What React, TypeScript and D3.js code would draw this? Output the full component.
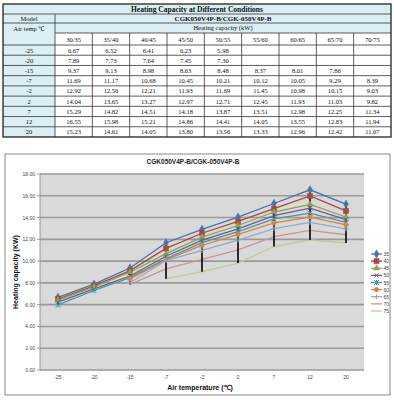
import * as d3 from 'd3';

// air temperature categories (rows of the table, x axis of the chart)
const airTemps = ['-25', '-20', '-15', '-7', '-2', '2', '7', '12', '20'];
// water in/out conditions (columns of the table)
const conditions = ['30/35', '35/40', '40/45', '45/50', '50/55', '55/60', '60/65', '65/70', '70/75'];
const legendNames = ['35', '40', '45', '50', '55', '60', '65', '70', '75'];

// capacity by condition, one value per air temp (null = not available)
const cap3035 = [6.67, 7.89, 9.37, 11.69, 12.92, 14.04, 15.29, 16.55, 15.23];
const cap3540 = [6.52, 7.73, 9.13, 11.17, 12.56, 13.65, 14.82, 15.98, 14.61];
const cap4045 = [6.41, 7.64, 8.98, 10.68, 12.21, 13.27, 14.51, 15.21, 14.05];
const cap4550 = [6.23, 7.45, 8.63, 10.45, 11.93, 12.97, 14.18, 14.86, 13.8];
const cap5055 = [5.98, 7.3, 8.48, 10.21, 11.69, 12.71, 13.87, 14.41, 13.56];
const cap5560 = [null, null, 8.37, 10.12, 11.45, 12.45, 13.51, 14.05, 13.33];
const cap6065 = [null, null, 8.01, 10.05, 10.98, 11.93, 12.98, 13.55, 12.96];
const cap6570 = [null, null, 7.86, 9.29, 10.15, 11.03, 12.25, 12.83, 12.42];
const cap7075 = [null, null, null, 8.39, 9.03, 9.82, 11.34, 11.94, 11.67];

const series = [cap3035, cap3540, cap4045, cap4550, cap5055, cap5560, cap6065, cap6570, cap7075];
const colors = ['#4572A7', '#AA4643', '#89A54E', '#71588F', '#4198AF', '#DB843D', '#93A9CF', '#D19392', '#B9CD96'];
const markers = ['diamond', 'square', 'triangle', 'x', 'star', 'circle', 'plus', 'none', 'none'];
const yTicks = [0, 2, 4, 6, 8, 10, 12, 14, 16, 18];

const lightBlue = '#DBEEF3';

function Marker({ type, x, y, color }: { type: string; x: number; y: number; color: string }) {
  if (type === 'none') return null;
  if (type === 'x') {
    return <path d={`M${x - 2},${y - 2}L${x + 2},${y + 2}M${x - 2},${y + 2}L${x + 2},${y - 2}`} stroke={color} strokeWidth={1} />;
  }
  if (type === 'plus') {
    return <path d={`M${x - 2.5},${y}L${x + 2.5},${y}M${x},${y - 2.5}L${x},${y + 2.5}`} stroke={color} strokeWidth={1} />;
  }
  if (type === 'star') {
    return (
      <g stroke={color} strokeWidth={1}>
        <path d={`M${x - 2.5},${y - 2.5}L${x + 2.5},${y + 2.5}M${x - 2.5},${y + 2.5}L${x + 2.5},${y - 2.5}M${x},${y - 2.5}L${x},${y + 2.5}`} />
      </g>
    );
  }
  const sym = type === 'diamond' ? d3.symbolDiamond : type === 'square' ? d3.symbolSquare : type === 'triangle' ? d3.symbolTriangle : d3.symbolCircle;
  const size = type === 'square' ? 26 : type === 'diamond' ? 20 : 16;
  return <path d={d3.symbol(sym, size)() || ''} transform={`translate(${x},${y})`} fill={color} stroke={color} strokeWidth={0.5} />;
}

function Table() {
  const left = 3, right = 391, firstW = 52;
  const colW = (right - left - firstW) / conditions.length;
  const top = 4;
  const rowH = [10, 9, 10, 12];
  const headY = rowH.reduce<number[]>((acc, h) => [...acc, acc[acc.length - 1] + h], [top]);
  const dataTop = headY[4];
  const dataRow = d3.scaleBand<string>().domain(airTemps).range([dataTop, 137]);
  const colX = (i: number) => left + firstW + i * colW;
  const font = 'Liberation Serif, Times New Roman, serif';
  const bottom = 137;
  return (
    <g fontFamily={font} fill="#111">
      <rect x={left} y={headY[0]} width={right - left} height={rowH[0]} fill={lightBlue} />
      <rect x={left} y={headY[1]} width={right - left} height={rowH[1] + rowH[2]} fill={lightBlue} />
      <rect x={left} y={headY[3]} width={firstW} height={bottom - headY[3]} fill={lightBlue} />
      <rect x={left + firstW} y={headY[3]} width={right - left - firstW} height={bottom - headY[3]} fill="#fff" />
      <text x={(left + right) / 2} y={headY[0] + 7.5} textAnchor="middle" fontSize={7.5} fontWeight="bold">Heating Capacity at Different Conditions</text>
      <text x={left + firstW / 2} y={headY[1] + 6.8} textAnchor="middle" fontSize={6.5}>Model</text>
      <text x={(left + firstW + right) / 2} y={headY[1] + 6.8} textAnchor="middle" fontSize={7} fontWeight="bold">CGK050V4P-B/CGK-050V4P-B</text>
      <text x={left + firstW / 2} y={headY[2] + 8} textAnchor="middle" fontSize={6.5}>Air temp ℃</text>
      <text x={(left + firstW + right) / 2} y={headY[2] + 7.3} textAnchor="middle" fontSize={6.5}>Heating capacity (kW)</text>
      {conditions.map((c, i) => (
        <text key={c} x={colX(i) + colW / 2} y={headY[3] + 8.5} textAnchor="middle" fontSize={6.5}>{c}</text>
      ))}
      {airTemps.map((t, r) => (
        <g key={t}>
          <text x={left + firstW / 2} y={(dataRow(t) as number) + 7.5} textAnchor="middle" fontSize={6.5}>{t}</text>
          {series.map((s, i) =>
            s[r] == null ? null : (
              <text key={i} x={colX(i) + colW / 2} y={(dataRow(t) as number) + 7.5} textAnchor="middle" fontSize={6.5}>
                {(s[r] as number).toFixed(2)}
              </text>
            )
          )}
        </g>
      ))}
      <g stroke="#333" strokeWidth={0.8} fill="none">
        {headY.slice(1, 3).map((y) => <line key={y} x1={left} x2={right} y1={y} y2={y} />)}
        <line x1={left + firstW} x2={right} y1={headY[3]} y2={headY[3]} />
        {airTemps.map((t) => <line key={t} x1={left} x2={right} y1={dataRow(t)} y2={dataRow(t)} />)}
        <line x1={left + firstW} x2={left + firstW} y1={headY[1]} y2={bottom} />
        {conditions.slice(1).map((c, i) => <line key={c} x1={colX(i + 1)} x2={colX(i + 1)} y1={headY[3]} y2={bottom} />)}
        <rect x={left} y={top} width={right - left} height={bottom - top} stroke="#222" strokeWidth={1.3} />
      </g>
    </g>
  );
}

function Chart() {
  const plot = { left: 40, right: 364, top: 174, bottom: 370 };
  const x = d3.scaleBand<string>().domain(airTemps).range([plot.left, plot.right]);
  const cx = (t: string) => (x(t) as number) + x.bandwidth() / 2;
  const y = d3.scaleLinear().domain([0, 18]).range([plot.bottom, plot.top]);
  const line = d3
    .line<number | null>()
    .defined((d) => d != null)
    .x((_, i) => cx(airTemps[i]))
    .y((d) => y(d as number));
  const sans = 'Liberation Sans, Arial, sans-serif';
  const hiLo = airTemps.map((t, i) => {
    const vals = series.map((s) => s[i]).filter((v): v is number => v != null);
    return { t, hi: d3.max(vals) as number, lo: d3.min(vals) as number };
  });
  const legendY = d3.scalePoint<string>().domain(legendNames).range([254, 311]);
  return (
    <g fontFamily={sans}>
      <rect x={5} y={154} width={385} height={241} fill="#fff" stroke="#888" strokeWidth={1} />
      <text x={193} y={164} textAnchor="middle" fontSize={6.5} fontWeight="bold" fill="#222">CGK050V4P-B/CGK-050V4P-B</text>
      <rect x={plot.left} y={plot.top} width={plot.right - plot.left} height={plot.bottom - plot.top} fill="#D9D9D9" />
      {yTicks.map((v) => (
        <g key={v}>
          <line x1={plot.left} x2={plot.right} y1={y(v)} y2={y(v)} stroke="#9A9A9A" strokeWidth={1.6} />
          <line x1={plot.left - 3} x2={plot.left} y1={y(v)} y2={y(v)} stroke="#888" strokeWidth={0.8} />
          <text x={plot.left - 5} y={y(v) + 2} textAnchor="end" fontSize={5} fill="#444">{v.toFixed(2)}</text>
        </g>
      ))}
      <line x1={plot.left} x2={plot.left} y1={plot.top} y2={plot.bottom} stroke="#888" strokeWidth={0.8} />
      {airTemps.map((t) => (
        <text key={t} x={cx(t)} y={379} textAnchor="middle" fontSize={5} fill="#444">{t}</text>
      ))}
      <text x={200} y={390} textAnchor="middle" fontSize={7} fontWeight="bold" fill="#111">Air temperature  (℃)</text>
      <text transform={`translate(18,${(plot.top + plot.bottom) / 2}) rotate(-90)`} textAnchor="middle" fontSize={7} fontWeight="bold" fill="#111">Heating capacity (KW)</text>
      {series.map((s, i) => (
        <path key={i} d={line(s) || ''} fill="none" stroke={colors[i]} strokeWidth={1.3} />
      ))}
      {hiLo.map((h) => (
        <line key={h.t} x1={cx(h.t)} x2={cx(h.t)} y1={y(h.hi)} y2={y(h.lo)} stroke="#000" strokeWidth={1.6} />
      ))}
      {series.map((s, i) =>
        s.map((v, j) => (v == null ? null : <Marker key={`${i}-${j}`} type={markers[i]} x={cx(airTemps[j])} y={y(v)} color={colors[i]} />))
      )}
      {legendNames.map((n, i) => {
        const ly = legendY(n) as number;
        return (
          <g key={n}>
            <line x1={371} x2={382} y1={ly} y2={ly} stroke={colors[i]} strokeWidth={1.3} />
            <Marker type={markers[i]} x={376.5} y={ly} color={colors[i]} />
            <text x={383.5} y={ly + 2} fontSize={5} fill="#444">{n}</text>
          </g>
        );
      })}
    </g>
  );
}

export default function App() {
  return (
    <svg width={394} height={400} style={{ position: 'absolute', left: 0, top: 0, background: '#fff' }}>
      <Table />
      <Chart />
    </svg>
  );
}
